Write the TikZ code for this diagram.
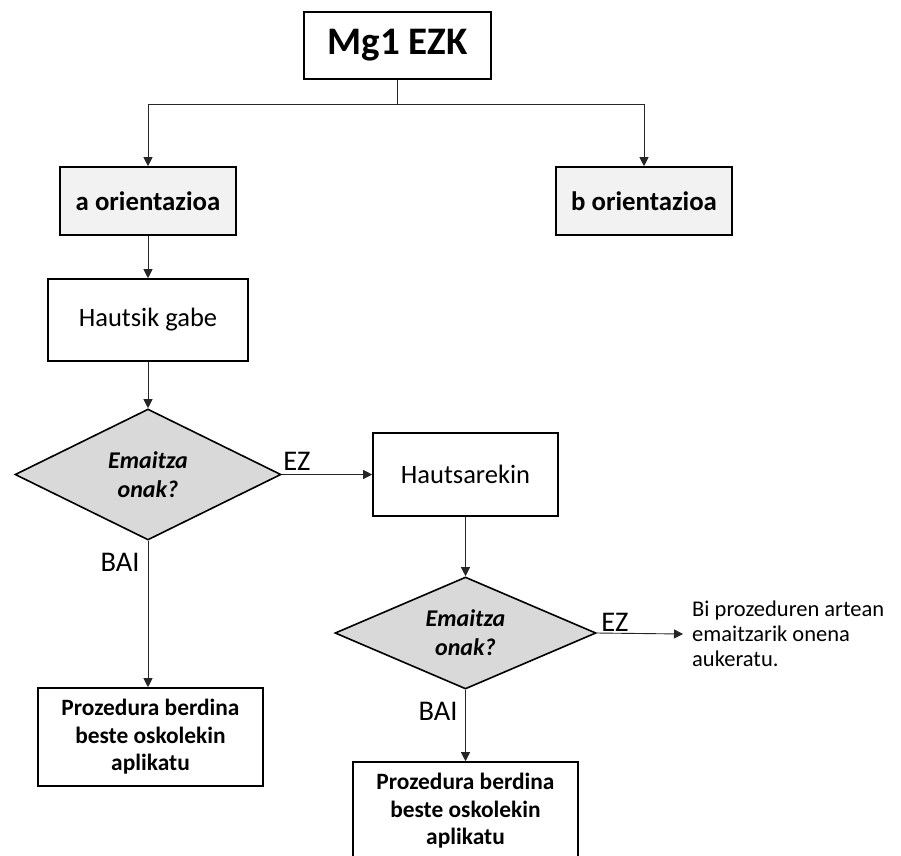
\documentclass[tikz,border=0pt]{standalone}
\usepackage{fontspec}
\setmainfont{Carlito}
\usepackage{xcolor}
\usepackage{tikz}
\usetikzlibrary{arrows.meta,shapes.geometric,positioning,calc}

\definecolor{boxgray}{HTML}{F2F2F2}
\definecolor{diagray}{HTML}{D9D9D9}

\begin{document}
\begin{tikzpicture}[x=1pt, y=-1pt,
  every node/.style={font=\fontsize{26.5}{32}\selectfont, text=black},
  box/.style={draw=black, line width=1.6pt, rectangle, inner sep=0pt, align=center},
  graybox/.style={box, fill=boxgray, font=\fontsize{26.8}{32}\selectfont\bfseries,
                  minimum width=176, minimum height=68},
  procbox/.style={box, font=\fontsize{23.4}{27.5}\selectfont\bfseries,
                  minimum width=225, minimum height=98},
  query/.style={diamond, aspect=2, draw=black, line width=1.6pt, fill=diagray,
                inner sep=0pt, align=center,
                font=\fontsize{24}{29}\selectfont\bfseries\itshape},
  answer/.style={font=\fontsize{28.5}{32}\selectfont, inner sep=0pt},
  conn/.style={draw=black!85, line width=0.9pt},
  arr/.style={conn, -{Triangle[width=9pt,length=9pt]}}]

%% ── Page: 1pt = 1px of the 901x855 frame ─────────────────────────────────────
\useasboundingbox (0,0) rectangle (901,855);

%% ── Head and the two orientations ────────────────────────────────────────────
\node[box, font=\fontsize{39}{44}\selectfont\bfseries,
      minimum width=187, minimum height=67] (mg) at (397.5,45.5) {Mg1 EZK};
\node[graybox] (aor) at (148,201) {a orientazioa};
\node[graybox] (bor) at (644,201) {b orientazioa};

\coordinate (split) at (397.5,104);
\draw[conn] (mg.south) -- (split);
\draw[arr] (split) -| (aor.north);
\draw[arr] (split) -| (bor.north);

%% ── Lane a: without dust ─────────────────────────────────────────────────────
\node[box, minimum width=200, minimum height=82] (hgabe) at (148,320) {Hautsik gabe};
\node[query, minimum width=266, minimum height=131] (q1) at (148,474.5)
  {Emaitza\\onak?};
\node[procbox] (proc1) at (150.5,737) {Prozedura berdina\\beste oskolekin\\aplikatu};

\draw[arr] (aor.south) -- (hgabe.north);
\draw[arr] (hgabe.south) -- (q1.north);
\draw[arr] (q1.south) -- (q1.south |- proc1.north);

\node[answer] (ez1)  at (297,461) {EZ};
\node[answer] (bai1) at (120,562) {BAI};

%% ── Lane a: with dust ────────────────────────────────────────────────────────
\node[box, minimum width=185, minimum height=83] (hsar) at (465.5,474.5) {Hautsarekin};
\node[query, minimum width=261, minimum height=112] (q2) at (465.5,633)
  {Emaitza\\onak?};
\node[procbox] (proc2) at (465.5,811) {Prozedura berdina\\beste oskolekin\\aplikatu};
\node[font=\fontsize{22.5}{25}\selectfont, align=left, anchor=west,
      inner xsep=9pt, inner ysep=0pt] (best) at (683,634)
  {Bi prozeduren artean\\emaitzarik onena\\aukeratu.};

\draw[arr] (q1.east) -- (hsar.west);
\draw[arr] (hsar.south) -- (q2.north);
\draw[arr] (q2.south) -- (proc2.north);
\draw[arr] (q2.east) -- (best.west);

\node[answer] (ez2)  at (615,622) {EZ};
\node[answer] (bai2) at (438,711) {BAI};

\end{tikzpicture}
\end{document}
